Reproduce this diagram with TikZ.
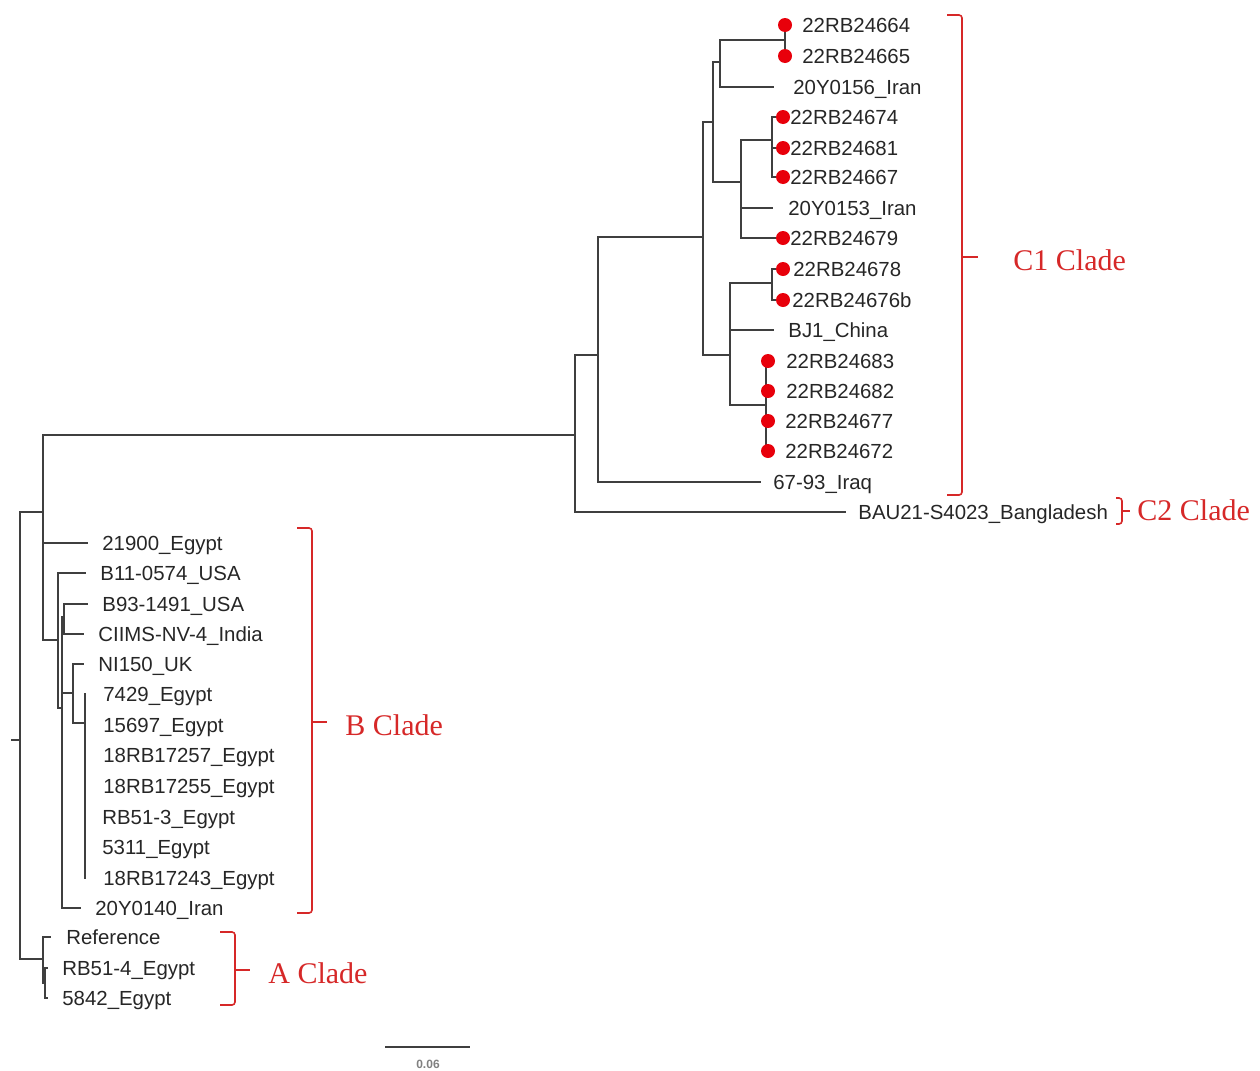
\documentclass[tikz,border=0pt]{standalone}
\usepackage{fontspec}
\setmainfont{Liberation Sans}
\newfontfamily\cladefont{Liberation Serif}
\definecolor{treegray}{HTML}{3F3F3F}
\definecolor{labelink}{HTML}{262626}
\definecolor{cladered}{HTML}{D62828}
\definecolor{dotred}{HTML}{E8000B}
\tikzset{
  branch/.style={treegray,line width=0.8pt,line cap=rect},
  leaf/.style={anchor=base west,inner sep=0pt,text=labelink,
    font=\fontsize{10.2}{12}\selectfont,yshift=-3.6pt},
  bracket/.style={cladered,line width=0.8pt,rounded corners=1.5pt},
  cladelab/.style={anchor=west,inner sep=0pt,text=cladered,
    font=\cladefont\fontsize{15}{18}\selectfont},
}

\begin{document}
\begin{tikzpicture}[x=0.5pt,y=-0.5pt]
  \useasboundingbox (0,0) rectangle (1260,1071);

  % Internal nodes: x of the vertical bar, y where the parent joins.
  \coordinate (stub) at (12,740);
  \coordinate (root) at (20,740);
  \coordinate (nUp) at (43,512);
  \coordinate (nA) at (43,959);
  \coordinate (nA2) at (45,983);
  \coordinate (nC) at (575,435);
  \coordinate (nC1) at (598,355);
  \coordinate (nC1a) at (703,237);
  \coordinate (nC1b) at (713,122);
  \coordinate (nC1c) at (730,355);
  \coordinate (nC1d) at (720,62);
  \coordinate (nC1e) at (741,182);
  \coordinate (nP1) at (785,40);
  \coordinate (nP2) at (772,140);
  \coordinate (nP3) at (772,283);
  \coordinate (nP4) at (766,405);
  \coordinate (nB1) at (58,640);
  \coordinate (nB2) at (62,708);
  \coordinate (nB3) at (64,617);
  \coordinate (nB4) at (73,693);
  \coordinate (nB5) at (85,723);

  % Leaves: tip of the branch and its label.
  \foreach \nm/\tx/\lx/\y/\lab in {
    a664/785/802/25/22RB24664, a665/785/802/56/22RB24665,
    i156/773/793/87/20Y0156\_Iran, a674/783/790/117/22RB24674,
    a681/783/790/148/22RB24681, a667/783/790/177/22RB24667,
    i153/772/788/208/20Y0153\_Iran, a679/783/790/238/22RB24679,
    a678/783/793/269/22RB24678, a676/783/792/300/22RB24676b,
    bj1/773/788/330/BJ1\_China, a683/768/786/361/22RB24683,
    a682/768/786/391/22RB24682, a677/768/785/421/22RB24677,
    a672/768/785/451/22RB24672, iraq/760/773/482/67-93\_Iraq,
    bau/845/858/512/BAU21-S4023\_Bangladesh,
    e219/87/102/543/21900\_Egypt, u011/85/100/573/B11-0574\_USA,
    u931/87/102/604/B93-1491\_USA, ind/83/98/634/CIIMS-NV-4\_India,
    uk/83/98/664/NI150\_UK, e742/85/103/694/7429\_Egypt,
    e156/85/103/725/15697\_Egypt, e257/85/103/755/18RB17257\_Egypt,
    e255/85/103/786/18RB17255\_Egypt, rb3/85/102/817/RB51-3\_Egypt,
    e531/85/102/847/5311\_Egypt, e243/85/103/878/18RB17243\_Egypt,
    i140/80/95/908/20Y0140\_Iran,
    ref/50/66/937/Reference, rb4/47/62/968/RB51-4\_Egypt,
    e584/47/62/998/5842\_Egypt}{
    \coordinate (t\nm) at (\tx,\y);
    \node[leaf] (l\nm) at (\lx,\y) {\lab};
  }

  % Branches, parent to child.
  \draw[branch] (stub) -- (root);
  \foreach \p/\c in {root/nUp, root/nA, nUp/nC, nUp/te219, nUp/nB1,
    nC/nC1, nC/tbau, nC1/nC1a, nC1/tiraq, nC1a/nC1b, nC1a/nC1c,
    nC1b/nC1d, nC1b/nC1e, nC1d/nP1, nC1d/ti156, nP1/ta664, nP1/ta665,
    nC1e/nP2, nC1e/ti153, nC1e/ta679, nP2/ta674, nP2/ta681, nP2/ta667,
    nC1c/nP3, nC1c/tbj1, nC1c/nP4, nP3/ta678, nP3/ta676,
    nP4/ta683, nP4/ta682, nP4/ta677, nP4/ta672,
    nB1/tu011, nB1/nB2, nB2/nB3, nB2/nB4, nB2/ti140, nB3/tu931, nB3/tind,
    nB4/tuk, nB4/nB5, nB5/te742, nB5/te156, nB5/te257, nB5/te255,
    nB5/trb3, nB5/te531, nB5/te243,
    nA/tref, nA/nA2, nA2/trb4, nA2/te584}{
    \draw[branch] (\p) |- (\c);
  }

  % New isolates.
  \foreach \t in {a664,a665,a674,a681,a667,a679,a678,a676,a683,a682,a677,a672}{
    \fill[dotred] (t\t) circle (7);
  }

  % Clade brackets.
  \draw[bracket] (947,15) -- (962,15) -- (962,495) -- (947,495);
  \draw[bracket] (962,257) -- (978,257);
  \node[cladelab] (cladeC1) at (1013,260) {C1 Clade};
  \draw[bracket] (1116,498) -- (1122,498) -- (1122,524) -- (1116,524);
  \draw[bracket] (1122,511) -- (1130,511);
  \node[cladelab] (cladeC2) at (1137,510) {C2 Clade};
  \draw[bracket] (297,528) -- (312,528) -- (312,913) -- (297,913);
  \draw[bracket] (312,722) -- (327,722);
  \node[cladelab] (cladeB) at (345,725) {B Clade};
  \draw[bracket] (220,932) -- (235,932) -- (235,1005) -- (220,1005);
  \draw[bracket] (235,970) -- (250,970);
  \node[cladelab] (cladeA) at (268,973) {A Clade};

  % Scale bar.
  \coordinate (sb1) at (385,1047);
  \coordinate (sb2) at (470,1047);
  \draw[treegray,line width=1pt] (sb1) -- (sb2);
  \node[font=\fontsize{6}{7}\selectfont\bfseries,text=gray,inner sep=0pt] (scalelab) at (428,1064) {0.06};
\end{tikzpicture}
\end{document}
